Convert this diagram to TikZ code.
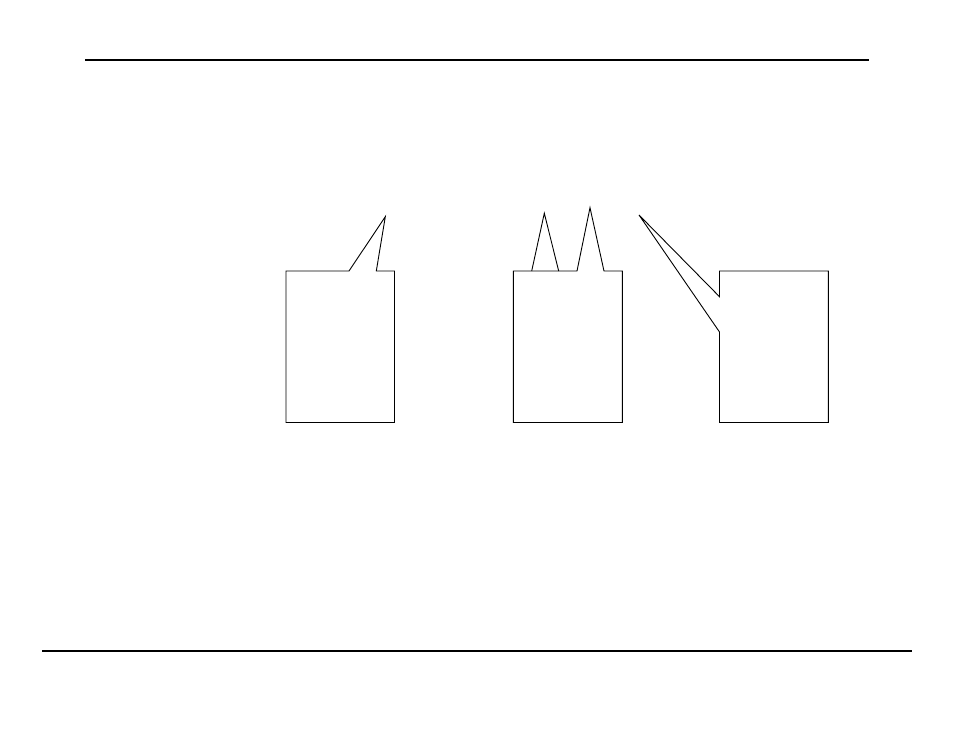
\documentclass[tikz,border=0pt]{standalone}
\begin{document}
\begin{tikzpicture}[x=1pt,y=-1pt,
  callout/.style={draw=black,line width=0.9pt,line join=miter},
  rule/.style={draw=black}]
\useasboundingbox (0,0) rectangle (954,738);
% rules
\draw[rule,line width=1.8pt] (85,60) -- (869,60);
\draw[rule,line width=1.1pt] (42,651) -- (912,651);
% box 1: single callout on top
\draw[callout] (286,271) -- (349,271) -- (385.3,216.7) -- (376.3,271) -- (394.5,271)
  -- (394.5,422.5) -- (286,422.5) -- cycle;
% box 2: two spikes on top (first spike sits on the closed edge)
\draw[callout] (513.3,271) -- (577,271)
  -- (590,207.7) -- (604,271) -- (622.3,271) -- (622.3,422.5) -- (513.3,422.5) -- cycle;
\draw[callout] (531.7,271) -- (544.3,213.3) -- (558.7,271);
% box 3: callout on left side
\draw[callout] (719.5,271) -- (828.3,271) -- (828.3,422.5) -- (719.5,422.5) -- (719.5,332)
  -- (639,215) -- (719.5,296.7) -- cycle;
\end{tikzpicture}
\end{document}
